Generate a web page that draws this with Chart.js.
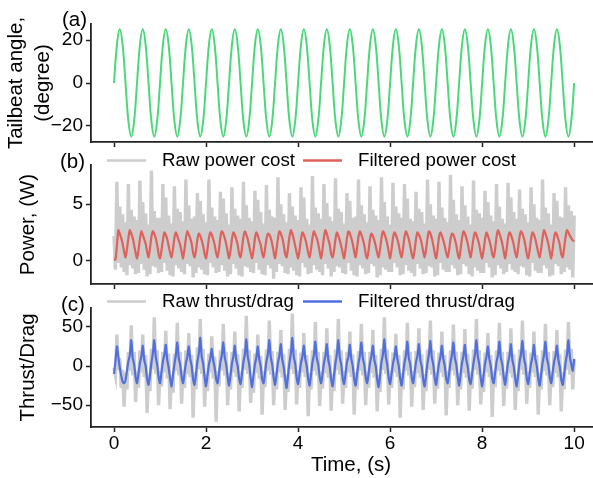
<!DOCTYPE html>
<html>
<head>
<meta charset="utf-8">
<script src="https://cdn.jsdelivr.net/npm/chart.js@4.4.1/dist/chart.umd.min.js"></script>
<style>
  html, body { margin: 0; padding: 0; background: #fff; overflow: hidden; }
  #wrap { position: relative; width: 593px; height: 478px; overflow: hidden; }
  #wrap canvas { position: absolute; left: 0; top: 0; }
</style>
</head>
<body>
<div id="wrap">
  <canvas id="angle" width="611" height="478"></canvas>
  <canvas id="power" width="611" height="478"></canvas>
  <canvas id="thrust" width="611" height="478"></canvas>
</div>
<script>
// sample spacing of the logged signals (s)
var angleStep = 1 / 16;
var signalStep = 1 / 32;

var timeTicks = [0, 2, 4, 6, 8, 10];
var angleTicks = [-20, 0, 20];
var powerTicks = [0, 5];
var thrustTicks = [-50, 0, 50];

// tailbeat angle, degree
var tailbeatAngle = [
  0, 17.7, 25, 17.7, 0, -17.7, -25, -17.7,
  0, 17.7, 25, 17.7, 0, -17.7, -25, -17.7,
  0, 17.7, 25, 17.7, 0, -17.7, -25, -17.7,
  0, 17.7, 25, 17.7, 0, -17.7, -25, -17.7,
  0, 17.7, 25, 17.7, 0, -17.7, -25, -17.7,
  0, 17.7, 25, 17.7, 0, -17.7, -25, -17.7,
  0, 17.7, 25, 17.7, 0, -17.7, -25, -17.7,
  0, 17.7, 25, 17.7, 0, -17.7, -25, -17.7,
  0, 17.7, 25, 17.7, 0, -17.7, -25, -17.7,
  0, 17.7, 25, 17.7, 0, -17.7, -25, -17.7,
  0, 17.7, 25, 17.7, 0, -17.7, -25, -17.7,
  0, 17.7, 25, 17.7, 0, -17.7, -25, -17.7,
  0, 17.7, 25, 17.7, 0, -17.7, -25, -17.7,
  0, 17.7, 25, 17.7, 0, -17.7, -25, -17.7,
  0, 17.7, 25, 17.7, 0, -17.7, -25, -17.7,
  0, 17.7, 25, 17.7, 0, -17.7, -25, -17.7,
  0, 17.7, 25, 17.7, 0, -17.7, -25, -17.7,
  0, 17.7, 25, 17.7, 0, -17.7, -25, -17.7,
  0, 17.7, 25, 17.7, 0, -17.7, -25, -17.7,
  0, 17.7, 25, 17.7, 0, -17.7, -25, -17.7,
  0
];

// power, W
var rawPower = [
  2.2, -0.8, 7.0, -0.2, 4.8, -0.6, 4.1, -1.0,
  3.4, -1.3, 6.8, -0.4, 4.5, -0.7, 3.9, -1.2,
  3.6, -1.1, 7.1, -0.3, 5.2, -0.8, 4.2, -1.4,
  3.2, -1.2, 8.0, -0.5, 4.4, -0.6, 3.8, -1.1,
  3.8, -1.0, 6.8, -0.2, 5.6, -0.9, 4.0, -1.3,
  3.3, -1.4, 6.6, -0.4, 4.6, -0.7, 4.3, -1.0,
  3.5, -1.2, 7.2, -0.3, 4.9, -0.5, 3.7, -1.5,
  3.9, -1.1, 6.0, -0.6, 5.3, -0.8, 4.1, -1.2,
  3.4, -1.3, 7.2, -0.2, 4.7, -0.6, 3.9, -1.1,
  3.6, -1.0, 6.1, -0.4, 5.5, -0.9, 4.2, -1.4,
  3.2, -1.2, 6.5, -0.3, 4.6, -0.7, 4.0, -1.3,
  3.7, -1.4, 7.0, -0.5, 4.9, -0.6, 3.8, -1.0,
  3.5, -1.1, 6.2, -0.2, 5.4, -0.8, 4.3, -1.2,
  3.3, -1.3, 6.7, -0.4, 4.5, -0.7, 3.9, -1.6,
  3.8, -1.0, 7.4, -0.3, 5.0, -0.5, 4.1, -1.1,
  3.4, -1.2, 6.0, -0.6, 4.8, -0.9, 4.0, -1.3,
  3.6, -1.4, 6.5, -0.2, 5.6, -0.6, 3.7, -1.2,
  3.2, -1.1, 7.5, -0.4, 4.7, -0.8, 4.2, -1.0,
  3.7, -1.3, 6.8, -0.3, 5.1, -0.7, 3.9, -1.4,
  3.5, -1.0, 7.3, -0.5, 4.6, -0.6, 4.3, -1.1,
  3.3, -1.2, 6.0, -0.2, 5.3, -0.9, 3.8, -1.3,
  3.9, -1.4, 7.2, -0.4, 4.9, -0.7, 4.1, -1.2,
  3.4, -1.1, 6.6, -0.3, 4.5, -0.5, 4.0, -1.5,
  3.6, -1.3, 7.4, -0.6, 5.2, -0.8, 3.9, -1.0,
  3.2, -1.0, 6.9, -0.2, 4.8, -0.6, 4.2, -1.3,
  3.8, -1.2, 6.8, -0.4, 5.5, -0.9, 3.7, -1.1,
  3.5, -1.4, 6.1, -0.3, 4.6, -0.7, 4.3, -1.2,
  3.3, -1.1, 7.2, -0.5, 5.0, -0.6, 4.0, -1.4,
  3.7, -1.3, 7.0, -0.2, 4.7, -0.8, 3.8, -1.0,
  3.4, -1.0, 7.6, -0.4, 5.4, -0.7, 4.1, -1.3,
  3.6, -1.2, 6.6, -0.3, 4.9, -0.5, 3.9, -1.2,
  3.2, -1.4, 7.1, -0.6, 4.5, -0.9, 4.2, -1.1,
  3.8, -1.1, 6.2, -0.2, 5.2, -0.6, 4.0, -1.5,
  3.5, -1.3, 6.8, -0.4, 4.8, -0.7, 3.7, -1.2,
  3.3, -1.0, 6.9, -0.3, 5.6, -0.8, 4.3, -1.0,
  3.7, -1.2, 6.3, -0.5, 4.6, -0.6, 4.1, -1.3,
  3.4, -1.4, 6.5, -0.2, 5.0, -0.9, 3.8, -1.1,
  3.6, -1.1, 7.2, -0.4, 4.7, -0.7, 4.2, -1.4,
  3.2, -1.3, 6.0, -0.3, 5.3, -0.5, 3.9, -1.2,
  3.8, -1.0, 6.5, -0.6, 4.9, -0.8, 4.4, -1.5,
  4.0
];

var filteredPower = [
  0.1, 0.1, 1.3, 2.7, 2.4, 2.0, 1.5, 0.8,
  0.3, 1.0, 2.0, 2.7, 2.4, 2.0, 1.4, 0.7,
  0.2, 0.9, 1.9, 2.6, 2.3, 1.9, 1.5, 0.8,
  0.3, 1.1, 2.1, 2.6, 2.4, 2.0, 1.4, 0.6,
  0.2, 0.9, 1.8, 2.5, 2.3, 1.9, 1.3, 0.7,
  0.3, 1.0, 2.0, 2.5, 2.2, 1.8, 1.4, 0.8,
  0.2, 1.0, 2.0, 2.6, 2.3, 2.0, 1.5, 0.7,
  0.3, 0.9, 1.9, 2.4, 2.2, 1.8, 1.3, 0.6,
  0.2, 1.0, 2.0, 2.5, 2.3, 1.9, 1.4, 0.7,
  0.3, 1.0, 2.1, 2.6, 2.4, 2.0, 1.5, 0.8,
  0.2, 0.9, 1.9, 2.5, 2.3, 1.9, 1.4, 0.6,
  0.3, 1.1, 2.1, 2.6, 2.3, 1.9, 1.3, 0.7,
  0.2, 0.9, 2.0, 2.5, 2.2, 1.8, 1.4, 0.7,
  0.3, 1.0, 1.9, 2.4, 2.3, 2.0, 1.5, 0.8,
  0.2, 1.0, 2.0, 2.6, 2.4, 2.0, 1.4, 0.6,
  0.3, 1.1, 2.1, 2.7, 2.4, 1.9, 1.3, 0.7,
  0.2, 0.9, 1.9, 2.5, 2.3, 1.9, 1.4, 0.7,
  0.3, 1.0, 2.0, 2.6, 2.3, 2.0, 1.5, 0.8,
  0.2, 1.0, 2.1, 2.7, 2.4, 1.9, 1.4, 0.6,
  0.3, 0.9, 1.9, 2.5, 2.2, 1.8, 1.3, 0.7,
  0.2, 1.0, 2.0, 2.6, 2.4, 2.0, 1.5, 0.8,
  0.3, 1.1, 2.1, 2.6, 2.3, 1.9, 1.4, 0.6,
  0.2, 0.9, 1.9, 2.4, 2.2, 1.8, 1.3, 0.7,
  0.3, 1.0, 2.0, 2.6, 2.4, 2.0, 1.5, 0.8,
  0.2, 1.0, 2.0, 2.5, 2.3, 1.9, 1.4, 0.7,
  0.3, 1.1, 2.1, 2.6, 2.3, 1.9, 1.3, 0.6,
  0.2, 0.9, 1.9, 2.5, 2.3, 2.0, 1.5, 0.8,
  0.3, 1.0, 2.0, 2.6, 2.4, 2.0, 1.4, 0.7,
  0.2, 1.0, 2.1, 2.5, 2.2, 1.8, 1.3, 0.7,
  0.3, 0.9, 1.9, 2.4, 2.3, 1.9, 1.4, 0.6,
  0.2, 1.0, 2.0, 2.6, 2.4, 2.0, 1.5, 0.8,
  0.3, 1.1, 2.0, 2.5, 2.3, 1.9, 1.4, 0.7,
  0.2, 0.9, 1.9, 2.5, 2.2, 1.8, 1.3, 0.6,
  0.3, 1.0, 2.1, 2.7, 2.4, 2.0, 1.5, 0.8,
  0.2, 1.0, 2.0, 2.5, 2.3, 1.9, 1.4, 0.7,
  0.3, 1.1, 2.1, 2.6, 2.4, 2.0, 1.4, 0.6,
  0.2, 0.9, 1.9, 2.5, 2.3, 1.9, 1.3, 0.7,
  0.3, 1.0, 2.0, 2.7, 2.4, 2.0, 1.5, 0.8,
  0.2, 1.0, 2.0, 2.5, 2.3, 1.9, 1.4, 0.6,
  0.3, 1.1, 2.1, 2.7, 2.5, 2.2, 2.0, 1.8,
  1.7
];

// thrust / drag
var rawThrust = [
  -2, -12, 40, -5, 10, -28, -5, -52,
  -8, -30, 18, -6, 52, -12, 18, -46,
  -6, -28, 20, -8, 40, -14, 14, -60,
  -10, -32, 22, -4, 62, -10, 20, -50,
  -6, -26, 18, -8, 45, -16, 16, -55,
  -12, -34, 16, -6, 55, -12, 18, -48,
  -5, -28, 20, -10, 42, -14, 14, -66,
  -8, -30, 24, -4, 60, -10, 22, -52,
  -10, -32, 16, -8, 38, -16, 12, -71,
  -6, -26, 20, -6, 54, -12, 18, -50,
  -9, -30, 18, -8, 44, -14, 15, -58,
  -7, -28, 22, -5, 64, -10, 20, -47,
  -12, -34, 16, -9, 40, -16, 13, -62,
  -6, -27, 21, -6, 58, -11, 19, -50,
  -8, -30, 18, -8, 46, -15, 15, -56,
  -11, -33, 22, -4, 67, -10, 21, -49,
  -6, -28, 17, -8, 42, -14, 14, -64,
  -9, -30, 20, -6, 56, -12, 18, -51,
  -7, -29, 18, -9, 48, -15, 14, -57,
  -10, -32, 21, -5, 60, -11, 20, -48,
  -6, -28, 18, -8, 44, -14, 15, -62,
  -8, -30, 19, -6, 54, -12, 18, -50,
  -7, -28, 18, -9, 46, -15, 14, -58,
  -11, -33, 22, -5, 62, -10, 21, -49,
  -6, -28, 17, -8, 41, -14, 14, -66,
  -9, -30, 20, -6, 55, -12, 18, -52,
  -6, -27, 19, -9, 48, -15, 15, -56,
  -10, -32, 21, -5, 58, -11, 20, -48,
  -8, -29, 17, -8, 44, -14, 14, -63,
  -6, -28, 20, -6, 53, -12, 18, -50,
  -9, -30, 18, -9, 47, -15, 15, -57,
  -7, -29, 21, -5, 60, -11, 20, -49,
  -11, -33, 17, -8, 42, -14, 14, -65,
  -6, -27, 20, -6, 55, -12, 18, -51,
  -8, -29, 18, -9, 48, -15, 15, -56,
  -10, -32, 21, -5, 58, -11, 20, -48,
  -7, -28, 17, -8, 44, -14, 14, -62,
  -9, -30, 20, -6, 54, -12, 18, -50,
  -6, -27, 19, -9, 46, -15, 15, -58,
  -8, -30, 21, -5, 56, -11, 22, -30,
  8
];

var filteredThrust = [
  -10, 6, 25, 12, -2, -12, -20, -22,
  -18, -6, 6, 14, 33, 10, 2, -14,
  -22, -10, 4, 12, 26, 8, 0, -16,
  -24, -12, 4, 16, 33, 12, 2, -14,
  -22, -8, 6, 14, 27, 8, -2, -16,
  -26, -12, 2, 14, 30, 10, 2, -14,
  -22, -10, 4, 12, 25, 9, 0, -17,
  -24, -10, 6, 16, 36, 12, 3, -14,
  -26, -12, 2, 10, 22, 7, -2, -16,
  -22, -9, 5, 14, 30, 11, 2, -14,
  -25, -12, 3, 12, 26, 8, 0, -16,
  -23, -10, 5, 15, 34, 12, 2, -15,
  -27, -12, 2, 11, 25, 9, 0, -17,
  -22, -9, 6, 15, 33, 11, 2, -14,
  -24, -11, 4, 13, 28, 8, -1, -16,
  -28, -12, 4, 16, 36, 12, 3, -15,
  -23, -10, 4, 12, 26, 9, 0, -16,
  -25, -11, 5, 14, 31, 10, 2, -14,
  -22, -10, 4, 13, 28, 8, -1, -17,
  -26, -12, 4, 15, 33, 11, 2, -15,
  -23, -10, 5, 12, 27, 9, 0, -16,
  -25, -11, 3, 14, 30, 10, 2, -14,
  -22, -10, 4, 13, 26, 8, 0, -17,
  -27, -12, 5, 15, 34, 12, 2, -15,
  -23, -10, 3, 12, 25, 9, 0, -16,
  -25, -11, 4, 14, 31, 10, 2, -14,
  -22, -9, 5, 13, 28, 8, -1, -17,
  -26, -12, 4, 15, 32, 11, 2, -15,
  -24, -10, 3, 12, 26, 9, 0, -16,
  -22, -10, 5, 14, 30, 10, 2, -14,
  -25, -11, 4, 13, 27, 8, -1, -17,
  -23, -10, 4, 15, 33, 12, 2, -15,
  -26, -12, 3, 12, 25, 9, 0, -16,
  -22, -9, 5, 14, 31, 10, 2, -14,
  -24, -10, 4, 13, 28, 8, -1, -16,
  -26, -12, 5, 15, 32, 11, 2, -15,
  -23, -10, 3, 12, 27, 9, 0, -16,
  -25, -11, 4, 14, 31, 10, 2, -14,
  -22, -9, 5, 13, 26, 8, -1, -17,
  -24, -11, 4, 15, 33, 12, 2, -6,
  9
];

var fontFamily = '"Liberation Sans", Arial, Helvetica, sans-serif';
var ink = '#222222';

function toPoints(values, step) {
  return values.map(function (v, i) {
    return { x: i * step, y: v };
  });
}

function fixedTicks(list) {
  return function (scale) {
    scale.ticks = list.map(function (v) { return { value: v }; });
  };
}

// panel tag "(a)" and the line-sample legend, drawn at fixed spots
var panelDecor = {
  id: 'panelDecor',
  afterDraw: function (chart, args, opts) {
    var ctx = chart.ctx;
    ctx.save();
    ctx.fillStyle = '#000';
    ctx.textBaseline = 'middle';
    ctx.textAlign = 'left';
    ctx.font = '20.5px ' + fontFamily;
    ctx.fillText(opts.tag, opts.tagX, opts.tagY);
    (opts.items || []).forEach(function (item) {
      var ds = chart.data.datasets[item.dataset];
      ctx.strokeStyle = ds.borderColor;
      ctx.lineWidth = 2.5;
      ctx.beginPath();
      ctx.moveTo(item.x, opts.legendY);
      ctx.lineTo(item.x + 39, opts.legendY);
      ctx.stroke();
      ctx.font = '18.7px ' + fontFamily;
      ctx.fillText(ds.label, item.x + 55, opts.legendY + 0.5);
    });
    ctx.restore();
  }
};

function makeChart(id, cfg) {
  var axisGrid = {
    display: true,
    drawOnChartArea: false,
    drawTicks: true,
    tickLength: 5,
    tickWidth: 1.5,
    tickColor: ink,
    color: ink
  };
  var axisBorder = { display: true, color: ink, width: 1.8 };

  return new Chart(document.getElementById(id).getContext('2d'), {
    type: 'line',
    data: { datasets: cfg.datasets },
    options: {
      responsive: false,
      animation: false,
      events: [],
      layout: { padding: cfg.padding },
      elements: { point: { radius: 0 } },
      plugins: {
        legend: { display: false },
        tooltip: { enabled: false },
        panelDecor: cfg.decor
      },
      scales: {
        x: {
          type: 'linear',
          min: -0.5,
          max: 10.8,
          afterBuildTicks: fixedTicks(timeTicks),
          afterFit: function (scale) { scale.height = cfg.showTime ? 51 : 6; },
          grid: axisGrid,
          border: axisBorder,
          ticks: {
            display: cfg.showTime,
            autoSkip: false,
            maxRotation: 0,
            color: '#000',
            padding: 0,
            font: { family: fontFamily, size: 19 }
          },
          title: {
            display: cfg.showTime,
            text: 'Time, (s)',
            color: '#000',
            padding: { top: 0, bottom: 0 },
            font: { family: fontFamily, size: 20.5 }
          }
        },
        y: {
          type: 'linear',
          min: cfg.yMin,
          max: cfg.yMax,
          afterBuildTicks: fixedTicks(cfg.yTicks),
          afterFit: function (scale) { scale.width = 91; },
          grid: axisGrid,
          border: axisBorder,
          ticks: {
            color: '#000',
            padding: 3,
            font: { family: fontFamily, size: 19 },
            callback: function (v) { return String(v).replace('-', '\u2212'); }
          },
          title: {
            display: true,
            text: cfg.yTitle,
            color: '#000',
            padding: { top: cfg.titlePad, bottom: 0 },
            font: { family: fontFamily, size: 20.5, lineHeight: cfg.titleLine }
          }
        }
      }
    },
    plugins: [panelDecor]
  });
}

makeChart('angle', {
  datasets: [{
    label: 'Tailbeat angle',
    data: toPoints(tailbeatAngle, angleStep),
    borderColor: '#4cd87a',
    borderWidth: 2,
    tension: 0.4
  }],
  padding: { top: 24, bottom: 330, left: 0, right: 0 },
  showTime: false,
  yMin: -27.5, yMax: 27.5, yTicks: angleTicks,
  yTitle: ['Tailbeat angle,', '(degree)'], titlePad: 2.2, titleLine: 1.35,
  decor: { tag: '(a)', tagX: 62, tagY: 20.5 }
});

makeChart('power', {
  datasets: [{
    label: 'Filtered power cost',
    data: toPoints(filteredPower, signalStep),
    borderColor: '#e0605a',
    borderWidth: 2.2,
    tension: 0.2
  }, {
    label: 'Raw power cost',
    data: toPoints(rawPower, signalStep),
    borderColor: '#cdcdcd',
    borderWidth: 3.4,
    tension: 0
  }],
  padding: { top: 165, bottom: 188, left: 0, right: 0 },
  showTime: false,
  yMin: -2.07, yMax: 8.48, yTicks: powerTicks,
  yTitle: 'Power, (W)', titlePad: 16.2, titleLine: 1.2,
  decor: {
    tag: '(b)', tagX: 60, tagY: 162, legendY: 160.5,
    items: [{ dataset: 1, x: 107 }, { dataset: 0, x: 303 }]
  }
});

makeChart('thrust', {
  datasets: [{
    label: 'Filtered thrust/drag',
    data: toPoints(filteredThrust, signalStep),
    borderColor: '#5170e0',
    borderWidth: 2.2,
    tension: 0.2
  }, {
    label: 'Raw thrust/drag',
    data: toPoints(rawThrust, signalStep),
    borderColor: '#cdcdcd',
    borderWidth: 3.4,
    tension: 0
  }],
  padding: { top: 308, bottom: 0, left: 0, right: 0 },
  showTime: true,
  yMin: -77.8, yMax: 74, yTicks: thrustTicks,
  yTitle: 'Thrust/Drag', titlePad: 16.2, titleLine: 1.2,
  decor: {
    tag: '(c)', tagX: 61, tagY: 305, legendY: 301.5,
    items: [{ dataset: 1, x: 107 }, { dataset: 0, x: 303 }]
  }
});
</script>
</body>
</html>
